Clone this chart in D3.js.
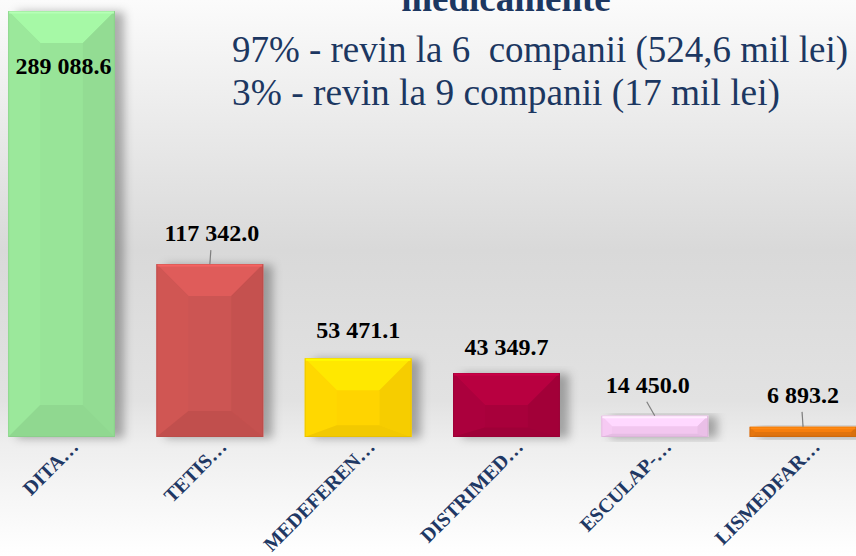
<!DOCTYPE html>
<html>
<head>
<meta charset="utf-8">
<script src="https://cdn.jsdelivr.net/npm/d3@7"></script>
<style>
  body { margin: 0; background: #fff; }
  svg { display: block; }
</style>
</head>
<body>
<div id="chart"></div>
<script>
// data
const companies = ["DITA…", "TETIS…", "MEDEFEREN…", "DISTRIMED…", "ESCULAP-…", "LISMEDFAR…"];
const values = [289088.6, 117342.0, 53471.1, 43349.7, 14450.0, 6893.2];
const titleText = "medicamente";
const noteLines = [
    "97% - revin la 6  companii (524,6 mil lei)",
    "3% - revin la 9 companii (17 mil lei)"
];

// styles
const barColors = ["#98e498", "#cc5452", "#ffd400", "#a8003b", "#f2c6ef", "#e1730f"];
// how far each value label sits above its bar (first one sits inside)
const labelLift = [-63, 23, 20, 18, 23, 24];
const labelShift = [2, 2, 0, 0, -7, 0];
const noteWidths = [616, 548];

window.onload = () => {

    const W = 856, H = 556;
    const baseline = 437, plotTop = 11;

    const svg = d3.select("#chart")
        .append("svg")
            .attr("width", W)
            .attr("height", H);

    const defs = svg.append("defs");

    // background gradient (white top -> grey -> white below the axis)
    const bg = defs.append("linearGradient")
        .attr("id", "bg").attr("x1", 0).attr("y1", 0).attr("x2", 0).attr("y2", 1);
    [[0, "#fbfbfb"], [0.2, "#ececec"], [0.45, "#d9d9d9"], [0.72, "#e2e2e2"], [0.8, "#eeeeee"], [1, "#ffffff"]]
        .forEach(s => bg.append("stop").attr("offset", s[0]).attr("stop-color", s[1]));

    svg.append("rect").attr("width", W).attr("height", H).attr("fill", "url(#bg)");

    const shadow = defs.append("filter")
        .attr("id", "shadow").attr("x", "-20%").attr("y", "-10%").attr("width", "150%").attr("height", "130%");
    shadow.append("feDropShadow")
        .attr("dx", 9).attr("dy", 1).attr("stdDeviation", 5)
        .attr("flood-color", "#000").attr("flood-opacity", 0.3);

    // scales
    const xScale = d3.scaleBand()
        .domain(companies)
        .range([-12.6, 877.2])
        .paddingInner(0.28)
        .paddingOuter(0.14);

    const yScale = d3.scaleLinear()
        .domain([0, d3.max(values)])
        .range([baseline, plotTop]);

    const fmt = v => d3.format(",.1f")(v).replace(/,/g, " ");

    const data = companies.map((c, i) => ({name: c, value: values[i], color: barColors[i], i: i}));

    // bars with soft bevel facets
    const bars = svg.selectAll(".bar")
        .data(data)
        .enter().append("g")
            .attr("class", "bar")
            .attr("filter", "url(#shadow)");

    bars.each(function(d) {
        const g = d3.select(this);
        const x0 = xScale(d.name), w = xScale.bandwidth();
        const y0 = yScale(d.value), h = baseline - y0;
        const bt = Math.min(32, h * 0.5);
        const bb = Math.min(32, h * 0.15);
        const bs = Math.min(32, bt);
        const c = d3.color(d.color);
        const pt = p => p.map(q => q.join(",")).join(" ");

        g.append("rect")
            .attr("x", x0).attr("y", y0).attr("width", w).attr("height", h)
            .attr("fill", c.formatHex());
        // top
        g.append("polygon").attr("points", pt([[x0, y0], [x0 + w, y0], [x0 + w - bs, y0 + bt], [x0 + bs, y0 + bt]]))
            .attr("fill", c.brighter(0.25).formatHex());
        // left
        g.append("polygon").attr("points", pt([[x0, y0], [x0 + bs, y0 + bt], [x0 + bs, y0 + h - bb], [x0, y0 + h]]))
            .attr("fill", c.brighter(0.05).formatHex());
        // right
        g.append("polygon").attr("points", pt([[x0 + w, y0], [x0 + w, y0 + h], [x0 + w - bs, y0 + h - bb], [x0 + w - bs, y0 + bt]]))
            .attr("fill", c.darker(0.1).formatHex());
        // bottom
        g.append("polygon").attr("points", pt([[x0, y0 + h], [x0 + bs, y0 + h - bb], [x0 + w - bs, y0 + h - bb], [x0 + w, y0 + h]]))
            .attr("fill", c.darker(0.15).formatHex());
        // light rim on top, darker rim on the other edges
        g.append("rect")
            .attr("x", x0 + 0.5).attr("y", y0 + 0.5).attr("width", w - 1).attr("height", h - 1)
            .attr("fill", "none").attr("stroke", c.darker(0.4).formatHex()).attr("stroke-opacity", 0.45);
        g.append("line")
            .attr("x1", x0 + 1).attr("x2", x0 + w - 1).attr("y1", y0 + 1.5).attr("y2", y0 + 1.5)
            .attr("stroke", c.brighter(0.5).formatHex()).attr("stroke-width", 2);
    });

    // leader lines for labels that sit further away
    svg.selectAll(".leader")
        .data(data.filter(d => labelLift[d.i] >= 22))
        .enter().append("line")
            .attr("x1", d => xScale(d.name) + xScale.bandwidth() / 2 + labelShift[d.i] - 1)
            .attr("y1", d => yScale(d.value) - labelLift[d.i] + 9)
            .attr("x2", d => xScale(d.name) + xScale.bandwidth() / 2)
            .attr("y2", d => yScale(d.value))
            .attr("stroke", "#7f7f7f").attr("stroke-width", 1.2);

    // value labels
    svg.selectAll(".value-label")
        .data(data)
        .enter().append("text")
            .attr("x", d => xScale(d.name) + xScale.bandwidth() / 2 + labelShift[d.i])
            .attr("y", d => yScale(d.value) - labelLift[d.i])
            .attr("text-anchor", "middle")
            .style("font-family", "'Liberation Serif', 'Times New Roman', serif")
            .style("font-weight", "bold").style("font-size", "24px")
            .attr("fill", "#000")
            .text(d => fmt(d.value));

    // category labels, rotated
    svg.selectAll(".cat-label")
        .data(data)
        .enter().append("text")
            .attr("transform", d => `translate(${xScale(d.name) + xScale.bandwidth() / 2 + 18},448) rotate(-45)`)
            .attr("text-anchor", "end")
            .style("font-family", "'Liberation Serif', 'Times New Roman', serif")
            .style("font-weight", "bold").style("font-size", "20px")
            .attr("fill", "#1f3864")
            .text(d => d.name);

    // title (cut off at the top of the slide, as on the original) and note lines
    svg.append("text")
        .attr("x", 506).attr("y", 11)
        .attr("text-anchor", "middle")
        .style("font-family", "'Liberation Serif', 'Times New Roman', serif")
        .style("font-weight", "bold").style("font-size", "37px")
        .attr("fill", "#1c3761")
        .text(titleText);

    svg.selectAll(".note")
        .data(noteLines)
        .enter().append("text")
            .attr("x", 232).attr("y", (d, i) => 62 + i * 43)
            .attr("textLength", (d, i) => noteWidths[i])
            .attr("lengthAdjust", "spacingAndGlyphs")
            .style("font-family", "'Liberation Serif', 'Times New Roman', serif")
            .style("font-size", "38px")
            .style("white-space", "pre")
            .attr("fill", "#1c3761")
            .text(d => d);
};
</script>
</body>
</html>
